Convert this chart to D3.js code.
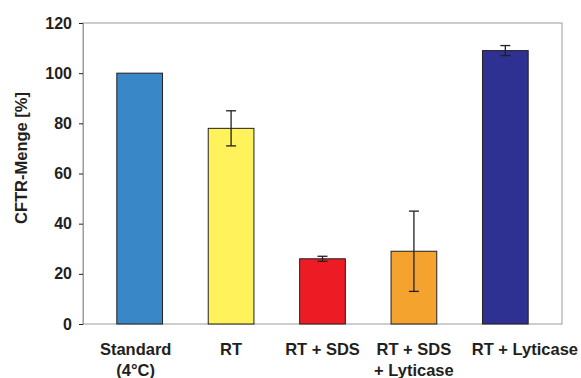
<!DOCTYPE html>
<html>
<head>
<meta charset="utf-8">
<script src="https://cdn.jsdelivr.net/npm/d3@7"></script>
<style>
  body { margin: 0; background: #fff; }
  text { font-family: "Liberation Sans", Arial, sans-serif; font-weight: bold; fill: #231f20; }
</style>
</head>
<body>
<svg width="581" height="378"></svg>
<script>
// categories (label lines) and values
const categories = ['Standard', 'RT', 'RT + SDS', 'RT + SDS2', 'RT + Lyticase'];
const labelLines = [['Standard', '(4°C)'], ['RT'], ['RT + SDS'], ['RT + SDS', '+ Lyticase'], ['RT + Lyticase']];
const values = [100, 78, 26, 29, 109];
const errors = [0, 7, 1, 16, 2];
const colors = ['#3a87c8', '#fff25a', '#ed1c24', '#f4a42e', '#2e3192'];
const yTicks = [0, 20, 40, 60, 80, 100, 120];

const svg = d3.select('svg');
const m = {left: 83, right: 19, top: 23, bottom: 54};
const W = 581, H = 378;

const x = d3.scaleBand().domain(categories)
  .range([m.left, W - m.right]).paddingInner(0.5).paddingOuter(0.37);
const y = d3.scaleLinear().domain([0, 120]).range([H - m.bottom, m.top]);

// plot frame
svg.append('rect')
  .attr('x', m.left).attr('y', m.top)
  .attr('width', W - m.right - m.left).attr('height', H - m.bottom - m.top)
  .attr('fill', 'none').attr('stroke', '#9a9ca0').attr('stroke-width', 1);

// y axis
const yAxis = svg.append('g')
  .attr('transform', `translate(${m.left},0)`)
  .call(d3.axisLeft(y).tickValues(yTicks).tickSize(4).tickPadding(7));
yAxis.select('.domain').attr('stroke', '#9a9ca0');
yAxis.selectAll('.tick line').attr('stroke', '#231f20');
yAxis.selectAll('.tick text').style('font-size', '16px').style('font-family', '"Liberation Sans", Arial, sans-serif').style('font-weight', 'bold').attr('fill', '#231f20');

// bars
svg.selectAll('rect.bar').data(values).enter().append('rect')
  .attr('class', 'bar')
  .attr('x', (d, i) => x(categories[i]))
  .attr('y', d => y(d))
  .attr('width', x.bandwidth())
  .attr('height', d => y(0) - y(d))
  .attr('fill', (d, i) => colors[i])
  .attr('stroke', '#231f20').attr('stroke-width', 1);

// error bars
const err = svg.selectAll('g.err').data(values.map((v, i) => ({v, e: errors[i], c: categories[i]})).filter(d => d.e > 0))
  .enter().append('g').attr('class', 'err')
  .attr('stroke', '#231f20').attr('stroke-width', 1.3);
const cx = d => x(d.c) + x.bandwidth() / 2;
err.append('line').attr('x1', cx).attr('x2', cx).attr('y1', d => y(d.v + d.e)).attr('y2', d => y(d.v - d.e));
err.append('line').attr('x1', d => cx(d) - 5).attr('x2', d => cx(d) + 5).attr('y1', d => y(d.v + d.e)).attr('y2', d => y(d.v + d.e));
err.append('line').attr('x1', d => cx(d) - 5).attr('x2', d => cx(d) + 5).attr('y1', d => y(d.v - d.e)).attr('y2', d => y(d.v - d.e));

// x labels (the last one is kept inside the right edge, like the original)
labelLines.forEach((lines, i) => {
  const last = i === labelLines.length - 1;
  const lx = last ? W - 3 : x(categories[i]) + x.bandwidth() / 2 - (i === 0 ? 4 : 0);
  const t = svg.append('text')
    .attr('text-anchor', last ? 'end' : 'middle')
    .attr('x', lx)
    .attr('y', 355)
    .style('font-size', '16.5px');
  lines.forEach((l, j) => t.append('tspan')
    .attr('x', lx)
    .attr('dy', j === 0 ? 0 : 20.5).text(l));
});

// y label
svg.append('text')
  .attr('transform', 'translate(27,158) rotate(-90)')
  .attr('text-anchor', 'middle')
  .style('font-size', '16.5px')
  .text('CFTR-Menge [%]');
</script>
</body>
</html>
